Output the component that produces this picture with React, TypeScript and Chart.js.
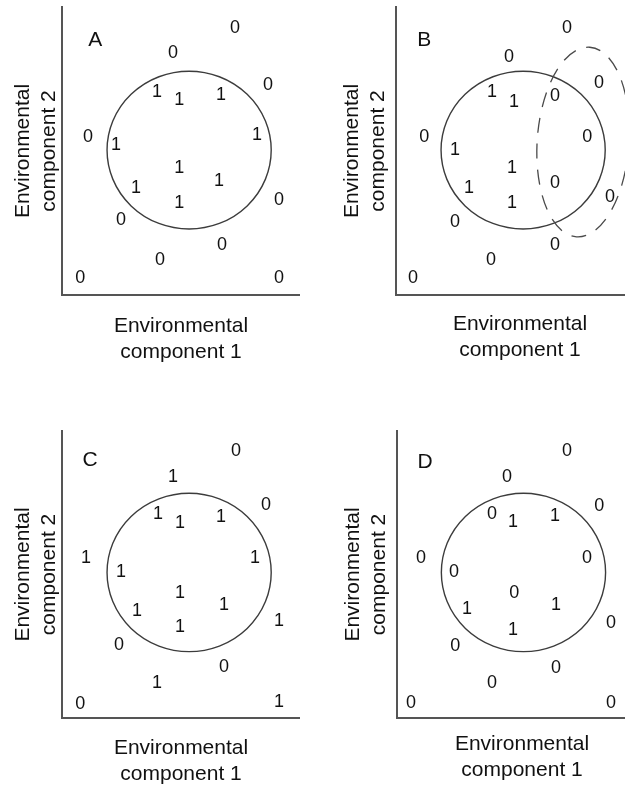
import React, { useEffect, useRef } from "react";
import { Chart, registerables } from "chart.js";

Chart.register(...registerables);

const FONT = "'Liberation Sans', Arial, Helvetica, sans-serif";

// ---------- data (in environmental-component units) ----------
// Panel A
const A_X = [7.27, 4.66, 8.66, 3.99, 4.92, 6.68, 8.19, 1.09, 2.27, 4.92, 6.6, 3.11, 4.92, 9.12, 2.48, 6.72, 4.12, 0.76, 9.12];
const A_Y = [9.27, 8.4, 7.29, 7.05, 6.77, 6.94, 5.56, 5.49, 5.21, 4.41, 3.96, 3.72, 3.19, 3.3, 2.6, 1.74, 1.22, 0.59, 0.59];
const A_V = [0, 0, 0, 1, 1, 1, 1, 0, 1, 1, 1, 1, 1, 0, 0, 0, 0, 0, 0];

// Panel B
const B_X = [7.18, 4.75, 8.53, 4.03, 4.96, 6.68, 1.18, 8.03, 2.48, 4.87, 3.07, 6.68, 8.99, 4.87, 2.48, 6.68, 3.99, 0.71];
const B_Y = [9.27, 8.26, 7.36, 7.05, 6.7, 6.91, 5.49, 5.49, 5.03, 4.41, 3.72, 3.89, 3.4, 3.19, 2.53, 1.74, 1.22, 0.59];
const B_V = [0, 0, 0, 1, 1, 0, 0, 0, 1, 1, 1, 0, 0, 1, 0, 0, 0, 0];

// Panel C
const C_X = [7.31, 4.66, 8.57, 4.03, 4.96, 6.68, 8.11, 1.01, 2.48, 4.96, 6.81, 3.15, 4.96, 9.12, 2.39, 6.81, 3.99, 0.76, 9.12];
const C_Y = [9.3, 8.39, 7.41, 7.1, 6.78, 7.0, 5.56, 5.56, 5.1, 4.37, 3.95, 3.74, 3.18, 3.36, 2.55, 1.78, 1.22, 0.49, 0.56];
const C_V = [0, 1, 0, 1, 1, 1, 1, 1, 1, 1, 1, 1, 1, 1, 0, 0, 1, 0, 1];

// Panel D
const D_X = [7.14, 4.62, 8.49, 3.99, 4.87, 6.64, 1.01, 7.98, 2.39, 4.92, 6.68, 2.94, 4.87, 8.99, 2.44, 6.68, 3.99, 0.59, 8.99];
const D_Y = [9.3, 8.39, 7.38, 7.1, 6.82, 7.03, 5.56, 5.59, 5.1, 4.37, 3.95, 3.78, 3.08, 3.32, 2.52, 1.75, 1.22, 0.52, 0.52];
const D_V = [0, 0, 0, 0, 1, 1, 0, 0, 0, 0, 1, 1, 1, 0, 0, 0, 0, 0, 0];

// Panel letters
const LETTERS = ["A", "B", "C", "D"];
const LETTER_X = [1.39, 1.18, 1.18, 1.18];
const LETTER_Y = [8.85, 8.85, 8.99, 8.92];

// Niche circles (centre and radii)
const NICHE_CX = [5.34, 5.34, 5.34, 5.31];
const NICHE_CY = [5.03, 5.03, 5.07, 5.07];
const NICHE_RX = [3.45, 3.45, 3.45, 3.45];
const NICHE_RY = [2.74, 2.74, 2.76, 2.76];

// Shifted range (dashed) in panel B
const SHIFT_CX = 7.86;
const SHIFT_CY = 5.31;
const SHIFT_RX = 1.93;
const SHIFT_RY = 3.3;
const SHIFT_ROT = 0.07;

const X_TITLE = ["Environmental", "component 1"];
const Y_TITLE = ["Environmental", "component 2"];

// ---------- layout (styles only) ----------
const LAYOUT = [
  { left: 0, top: 0, width: 300, height: 365, padTop: 7, yPad: { top: 10, bottom: 0 }, xPad: { top: 18, bottom: 0 }, xMax: 10 },
  { left: 329, top: 0, width: 315, height: 363, padTop: 7, yPad: { top: 10, bottom: 5 }, xPad: { top: 16, bottom: 0 }, xMax: 10.42 },
  { left: 0, top: 400, width: 300, height: 387, padTop: 31, yPad: { top: 10, bottom: 0 }, xPad: { top: 17, bottom: 0 }, xMax: 10 },
  { left: 330, top: 400, width: 317, height: 383, padTop: 31, yPad: { top: 10, bottom: 5 }, xPad: { top: 13, bottom: 0 }, xMax: 10.5 },
];

const PANEL_DATA = [
  { xs: A_X, ys: A_Y, vs: A_V },
  { xs: B_X, ys: B_Y, vs: B_V },
  { xs: C_X, ys: C_Y, vs: C_V },
  { xs: D_X, ys: D_Y, vs: D_V },
];

const textPlugin = {
  id: "pointTexts",
  afterDatasetsDraw(chart: any) {
    const ctx = chart.ctx;
    chart.data.datasets.forEach((ds: any, i: number) => {
      const texts = ds.texts;
      if (!texts) return;
      const meta = chart.getDatasetMeta(i);
      ctx.save();
      ctx.font = `${ds.textSize}px ${FONT}`;
      ctx.fillStyle = "#111";
      ctx.textAlign = "center";
      ctx.textBaseline = "middle";
      meta.data.forEach((el: any, j: number) => {
        ctx.fillText(String(texts[j]), el.x, el.y);
      });
      ctx.restore();
    });
  },
};

const ellipsePlugin = {
  id: "rangeEllipses",
  beforeDatasetsDraw(chart: any, _args: any, opts: any) {
    const { ctx, scales } = chart;
    const x = scales.x;
    const y = scales.y;
    const items = opts && opts.items ? opts.items : [];
    for (let k = 0; k < items.length; k++) {
      const e = items[k];
      const px = x.getPixelForValue(e.cx);
      const py = y.getPixelForValue(e.cy);
      const rx = Math.abs(x.getPixelForValue(e.cx + e.rx) - px);
      const ry = Math.abs(y.getPixelForValue(e.cy + e.ry) - py);
      ctx.save();
      ctx.beginPath();
      ctx.ellipse(px, py, rx, ry, e.rot || 0, 0, Math.PI * 2);
      ctx.setLineDash(e.dash ? [e.dash[0], e.dash[1]] : []);
      ctx.lineWidth = e.width;
      ctx.strokeStyle = e.color;
      ctx.stroke();
      ctx.restore();
    }
  },
};

function Panel({ index }: { index: number }) {
  const ref = useRef<HTMLCanvasElement | null>(null);
  const lay = LAYOUT[index];
  useEffect(() => {
    if (!ref.current) return;
    const d = PANEL_DATA[index];
    const items: any[] = [
      {
        cx: NICHE_CX[index],
        cy: NICHE_CY[index],
        rx: NICHE_RX[index],
        ry: NICHE_RY[index],
        rot: 0,
        width: 1.4,
        color: "#3c3c3c",
      },
    ];
    if (index === 1) {
      items.push({
        cx: SHIFT_CX,
        cy: SHIFT_CY,
        rx: SHIFT_RX,
        ry: SHIFT_RY,
        rot: SHIFT_ROT,
        width: 1.3,
        color: "#4a4a4a",
        dash: [15, 11],
      });
    }
    const titleFont = { family: FONT, size: 21, lineHeight: 1.24 };
    const chart = new Chart(ref.current, {
      type: "scatter",
      data: {
        datasets: [
          {
            label: "occurrence",
            data: d.xs.map((x, i) => ({ x, y: d.ys[i] })),
            pointRadius: 0,
            pointHoverRadius: 0,
            texts: d.vs,
            textSize: 18,
          } as any,
          {
            label: "panel",
            data: [{ x: LETTER_X[index], y: LETTER_Y[index] }],
            pointRadius: 0,
            pointHoverRadius: 0,
            texts: [LETTERS[index]],
            textSize: 21,
          } as any,
        ],
      },
      options: {
        animation: false,
        responsive: false,
        events: [],
        layout: { padding: { top: lay.padTop, left: 0, right: 0, bottom: 0 } },
        plugins: {
          legend: { display: false },
          tooltip: { enabled: false },
          rangeEllipses: { items },
        } as any,
        scales: {
          x: {
            type: "linear",
            min: 0,
            max: lay.xMax,
            ticks: { display: false },
            grid: { display: false, drawTicks: false },
            border: { display: true, color: "#555", width: 2 },
            title: {
              display: true,
              text: X_TITLE,
              color: "#111",
              font: titleFont,
              padding: lay.xPad,
            },
          },
          y: {
            type: "linear",
            min: 0,
            max: 10,
            ticks: { display: false },
            grid: { display: false, drawTicks: false },
            border: { display: true, color: "#555", width: 2 },
            title: {
              display: true,
              text: Y_TITLE,
              color: "#111",
              font: titleFont,
              padding: lay.yPad,
            },
          },
        },
      },
      plugins: [textPlugin, ellipsePlugin],
    });
    return () => chart.destroy();
  }, [index]);
  return (
    <canvas
      ref={ref}
      width={lay.width}
      height={lay.height}
      style={{ position: "absolute", left: lay.left, top: lay.top, width: lay.width, height: lay.height }}
    />
  );
}

export default function App() {
  return (
    <div
      style={{
        position: "absolute",
        left: 0,
        top: 0,
        width: 625,
        height: 785,
        overflow: "hidden",
        background: "#fff",
      }}
    >
      {[0, 1, 2, 3].map((i) => (
        <Panel key={i} index={i} />
      ))}
    </div>
  );
}
